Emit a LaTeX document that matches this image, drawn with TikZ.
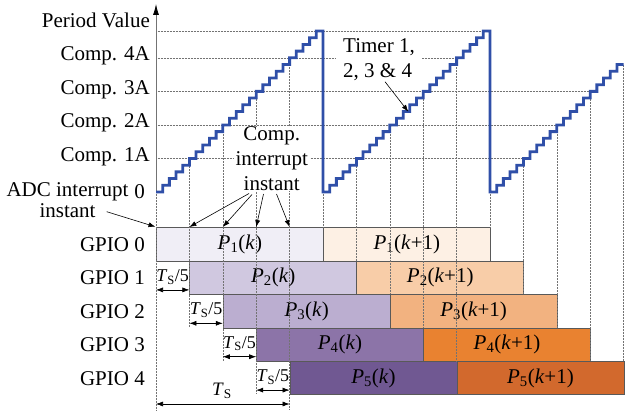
\documentclass[tikz,border=0pt]{standalone}
\usepackage{fontspec}
\setmainfont{Liberation Serif}
\usetikzlibrary{arrows.meta}
\definecolor{rampblue}{HTML}{2F4FA8}
\definecolor{pa}{HTML}{F0EEF6}
\definecolor{pb}{HTML}{D0C8E0}
\definecolor{pc}{HTML}{BBAED0}
\definecolor{pd}{HTML}{8C74A8}
\definecolor{pe}{HTML}{705892}
\definecolor{oa}{HTML}{FDF0E4}
\definecolor{ob}{HTML}{F8CDA8}
\definecolor{oc}{HTML}{F2B280}
\definecolor{od}{HTML}{E98230}
\definecolor{oe}{HTML}{D2692D}
\newcommand{\Pk}[1]{\textit{P}\textsubscript{#1}(\textit{k})}
\newcommand{\Pkk}[1]{\textit{P}\textsubscript{#1}(\textit{k}+1)}
\newcommand{\TsF}{{\fontsize{18}{20}\selectfont\textit{T}\textsubscript{S}/5}}
\begin{document}
\begin{tikzpicture}[x=1pt,y=-1pt,
  font=\fontsize{21}{25}\selectfont,
  gridln/.style={draw=black!55, line width=0.5pt, densely dotted},
  barbox/.style={draw=black!65, line width=0.7pt, minimum width=167pt,
    minimum height=33.4pt, anchor=north west, inner sep=0pt},
  arr/.style={-{Latex[length=7pt,width=5pt]}, line width=0.6pt},
  darr/.style={{Latex[length=7pt,width=5pt]}-{Latex[length=7pt,width=5pt]}, line width=0.6pt},
  lbl/.style={anchor=base east, inner sep=0pt}]
\useasboundingbox (0,0) rectangle (643,412);

% bars
\foreach \r/\ca/\cb in {0/pa/oa,1/pb/ob,2/pc/oc,3/pd/od,4/pe/oe}{
  \pgfmathtruncatemacro{\m}{\r+1}
  \node[barbox, fill=\ca] (bk\m) at ({156+33.4*\r},{227.3+33.4*\r}) {\Pk{\m}};
  \node[barbox, fill=\cb] (bkk\m) at ({323+33.4*\r},{227.3+33.4*\r}) {\Pkk{\m}};
}

% horizontal grid lines
\draw[gridln] (156,31) -- (490,31);
\draw[gridln] (156,57.83) -- (456.6,57.83);
\draw[gridln] (156,91.375) -- (590.2,91.375);
\draw[gridln] (156,124.92) -- (556.8,124.92);
\draw[gridln] (156,158.46) -- (523.4,158.46);

% vertical grid lines
\foreach \n/\ya/\yb in {1/158.46/327.5, 2/124.92/360.9, 3/91.375/394.3, 4/57.83/410,
  6/158.46/260.7, 7/124.92/294.1, 8/91.375/327.5, 9/57.83/360.9,
  11/158.46/294.1, 12/124.92/327.5, 13/91.375/360.9, 14/64.54/360.9,
  5/192/227.3, 10/192/227.3, 0/192/410}
  \draw[gridln] ({156+33.4*\n},\ya) -- ({156+33.4*\n},\yb);

% labels with white background (drawn before the ramp)
\node[fill=white, inner xsep=2pt, inner ysep=0pt, align=center, anchor=base] (cint) at (271.7,190.7)
  {Comp.\\interrupt\\instant};
\node[fill=white, inner xsep=7pt, inner ysep=1pt, align=left, anchor=base west] (tmr) at (336,77.3)
  {Timer 1,\\2, 3 \& 4};

% axis
\draw[draw=black!55, line width=0.8pt, -{Latex[length=11pt,width=6pt,color=black]}] (156,192) -- (156,4);

% staircase
\draw[rampblue, line width=2.8pt, line join=miter]
  (156,192) -- ++(6.68,0) foreach \j in {1,...,24}{ -- ++(0,-6.70833) -- ++(6.68,0)}
  -- (323,192) -- ++(6.68,0) foreach \j in {1,...,24}{ -- ++(0,-6.70833) -- ++(6.68,0)}
  -- (490,192) -- ++(6.68,0) foreach \j in {1,...,19}{ -- ++(0,-6.70833) -- ++(6.68,0)};

% axis labels
\node[lbl] (pv) at (150,27.3) {Period Value};
\node[lbl] (c4) at (150,60.8) {Comp. 4A};
\node[lbl] (c3) at (150,94.4) {Comp. 3A};
\node[lbl] (c2) at (150,127.9) {Comp. 2A};
\node[lbl] (c1) at (150,161.5) {Comp. 1A};
\node[lbl] (zero) at (145,198.3) {0};

% GPIO labels
\foreach \r in {0,...,4}
  \node[lbl] (g\r) at (145,{251.5+33.4*\r}) {GPIO \r};

% Ts/5 labels and arrows
\foreach \i in {1,...,4}{
  \node[inner sep=0pt] (ts\i) at ({156+33.4*(\i-1)+16.7},{243.5+33.4*\i}) {\TsF};
  \coordinate (tsa\i) at ({156+33.4*(\i-1)},{256.5+33.4*\i});
  \coordinate (tsb\i) at ({156+33.4*\i},{256.5+33.4*\i});
  \draw[darr] (tsa\i) -- (tsb\i);
}
\node[inner sep=0pt] (tsl) at (222,391) {{\fontsize{19}{20}\selectfont\textit{T}\textsubscript{S}}};
\coordinate (tla) at (156,404);
\coordinate (tlb) at (289.6,404);
\draw[darr] (tla) -- (tlb);

% Comp interrupt arrows
\coordinate (s1) at (249,193.5);
\coordinate (s2) at (252,194.5);
\coordinate (s3) at (263.5,194);
\coordinate (s4) at (276.5,194);
\foreach \n in {1,...,4}{
  \coordinate (e\n) at ({156+33.4*\n},227);
  \draw[arr] (s\n) -- (e\n);
}

% ADC label
\node[inner sep=0pt, align=center, anchor=base, font=\fontsize{21}{20.5}\selectfont] (adc) at (67.5,217.3)
  {ADC interrupt\\instant};
\coordinate (adcs) at (106.7,211.7);
\coordinate (adce) at (155.5,226.8);
\draw[arr] (adcs) -- (adce);

% Timer arrow
\coordinate (tms) at (385,81.7);
\coordinate (tme) at (408.3,111.7);
\draw[arr] (tms) -- (tme);
\end{tikzpicture}
\end{document}
